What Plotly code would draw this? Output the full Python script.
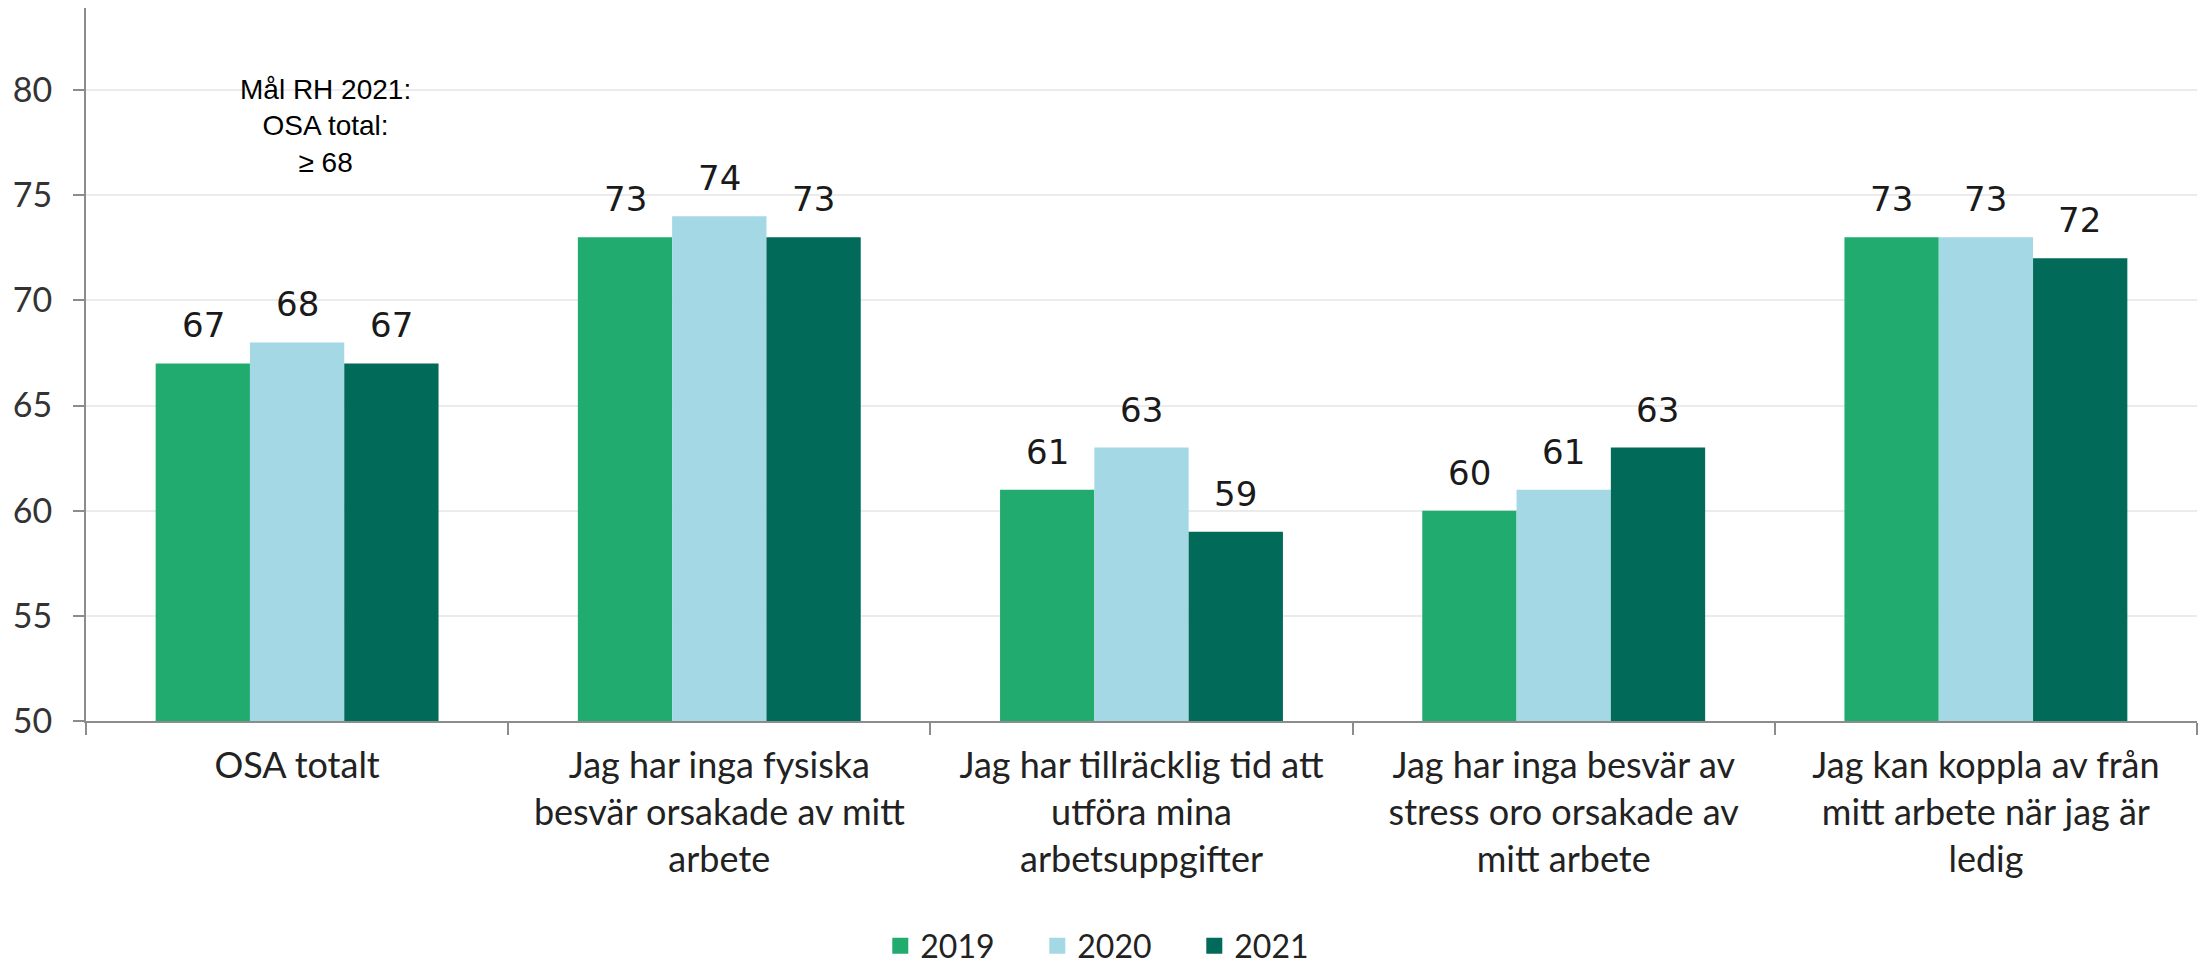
import plotly.graph_objects as go

categories = [
    "OSA totalt",
    "Jag har inga fysiska<br>besvär orsakade av mitt<br>arbete",
    "Jag har tillräcklig tid att<br>utföra mina<br>arbetsuppgifter",
    "Jag har inga besvär av<br>stress oro orsakade av<br>mitt arbete",
    "Jag kan koppla av från<br>mitt arbete när jag är<br>ledig",
]
years = ["2019", "2020", "2021"]
values_2019 = [67, 73, 61, 60, 73]
values_2020 = [68, 74, 63, 61, 73]
values_2021 = [67, 73, 59, 63, 72]
series = [values_2019, values_2020, values_2021]
colors = ["#22AB6E", "#A4D8E5", "#026A59"]
goal_text = "Mål RH 2021:<br>OSA total:<br>≥ 68"

fig = go.Figure()
for name, vals, col in zip(years, series, colors):
    fig.add_trace(go.Bar(
        x=categories, y=vals, name=name, legendgroup=name,
        marker=dict(color=col, line=dict(width=0)),
        hoverinfo="x+y+name", showlegend=False,
    ))
# legend entries with larger square swatches
for name, col in zip(years, colors):
    fig.add_trace(go.Scatter(
        x=[None], y=[None], mode="markers", name=name, legendgroup=name,
        marker=dict(symbol="square", size=17, color=col),
        showlegend=True, hoverinfo="skip",
    ))

# data labels above bars
bar_px = 94
for i, vals in enumerate(series):
    for c, v in zip(categories, vals):
        fig.add_annotation(
            x=c, y=v, text=str(v), showarrow=False,
            xshift=(i - 1) * bar_px, yshift=16, yanchor="bottom",
            font=dict(family="DejaVu Sans", size=34, color="#1a1a1a"),
        )

fig.add_annotation(
    x=categories[0], y=78.3, text=goal_text, showarrow=False,
    xshift=28, align="center", yanchor="middle",
    font=dict(family="Liberation Sans, Arial", size=28, color="#000000"),
)

fig.update_layout(
    width=2198, height=961,
    margin=dict(l=78, r=9, t=0, b=248, autoexpand=False),
    plot_bgcolor="white", paper_bgcolor="white",
    barmode="group", bargap=0.33, bargroupgap=0,
    showlegend=True,
    legend=dict(
        orientation="h", xref="container", yref="container",
        x=0.504, xanchor="center", y=0.024, yanchor="middle",
        font=dict(family="Lato", size=32, color="#222222"),
        entrywidth=112, entrywidthmode="pixels",
        itemwidth=30, traceorder="normal",
    ),
    font=dict(family="Lato", color="#333333"),
)
fig.update_xaxes(
    showline=True, linecolor="#8c8c8c", linewidth=2,
    ticks="outside", ticklen=12, tickcolor="#8c8c8c", tickwidth=2,
    tickson="boundaries", tickangle=0, automargin=False,
    tickfont=dict(family="Lato", size=36, color="#222222"),
    ticklabelstandoff=12,
    showgrid=False,
)
fig.update_yaxes(
    range=[50, 83.9], dtick=5, tick0=50, automargin=False,
    showline=True, linecolor="#8c8c8c", linewidth=2,
    ticks="outside", ticklen=11, tickcolor="#8c8c8c", tickwidth=2,
    showgrid=True, gridcolor="#ebebeb", gridwidth=1.5,
    tickfont=dict(family="Lato", size=34, color="#333333"),
    ticklabelstandoff=14, zeroline=False,
)

fig.write_html("out.html")
